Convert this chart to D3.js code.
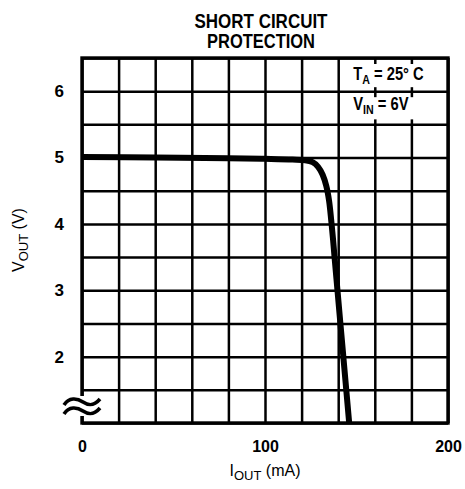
<!DOCTYPE html>
<html><head><meta charset="utf-8">
<script src="https://cdn.jsdelivr.net/npm/d3@7"></script>
<style>body{margin:0;background:#fff}svg{display:block}</style>
</head><body>
<script>
const iOut = [0, 40, 80, 100, 115, 122, 126, 129, 131.5, 133.5, 135, 136.2, 137.2, 138, 139.6, 141.2, 142.8, 144.4, 146];
const vOut = [5.01, 5.0, 4.99, 4.98, 4.97, 4.96, 4.93, 4.86, 4.74, 4.57, 4.35, 4.05, 3.76, 3.5, 3.0, 2.5, 2.0, 1.5, 1.0];
const xTicks = [0, 100, 200];
const yTicks = [2, 3, 4, 5, 6];
const xGrid = d3.range(0, 201, 20);
const yGrid = d3.range(1, 6.51, 0.5);
const titleLines = ["SHORT CIRCUIT", "PROTECTION"];

const W = 465, H = 489;
const L = 82, R = 448, T = 58, B = 423;
const svg = d3.select("body").append("svg").attr("width", W).attr("height", H);
const x = d3.scaleLinear().domain([0, 200]).range([L, R]);
const y = d3.scaleLinear().domain([1, 6.5]).range([B, T]);
const font = "'Liberation Sans', Arial, sans-serif";

// grid via axes
svg.append("g").attr("transform", `translate(0,${B})`)
  .call(d3.axisBottom(x).tickValues(xGrid).tickSize(-(B - T)).tickFormat(""))
  .call(g => g.select(".domain").remove())
  .selectAll("line").attr("stroke", "#000").attr("stroke-width", 2.5);
svg.append("g").attr("transform", `translate(${L},0)`)
  .call(d3.axisLeft(y).tickValues(yGrid).tickSize(-(R - L)).tickFormat(""))
  .call(g => g.select(".domain").remove())
  .selectAll("line").attr("stroke", "#000").attr("stroke-width", 2.5);

// inset text boxes (white background)
svg.append("rect").attr("x", x(140) + 3).attr("y", y(6.5) + 6).attr("width", R - x(140) - 5).attr("height", y(6) - y(6.5) - 10).attr("fill", "#fff");
svg.append("rect").attr("x", x(140) + 3).attr("y", y(6) + 6).attr("width", R - x(140) - 5).attr("height", y(5.5) - y(6) - 11).attr("fill", "#fff");

// border
svg.append("rect").attr("x", L).attr("y", T).attr("width", R - L).attr("height", B - T)
  .attr("fill", "none").attr("stroke", "#000").attr("stroke-width", 3.4);

// curve
svg.append("path").datum(iOut.map((d, i) => [d, vOut[i]]))
  .attr("d", d3.line().x(d => x(d[0])).y(d => y(d[1])).curve(d3.curveCatmullRom.alpha(0.5)))
  .attr("fill", "none").attr("stroke", "#000").attr("stroke-width", 6).attr("stroke-linecap", "butt");

// axis break symbol
svg.append("rect").attr("x", L - 4).attr("y", 396).attr("width", 8).attr("height", 20).attr("fill", "#fff");
const wave = (yy) => `M${L - 18},${yy + 3} C${L - 13},${yy - 5} ${L - 5},${yy - 4} ${L + 1},${yy} S${L + 12},${yy + 4} ${L + 18},${yy - 3}`;
svg.append("path").attr("d", wave(402)).attr("fill", "none").attr("stroke", "#000").attr("stroke-width", 3.6);
svg.append("path").attr("d", wave(411)).attr("fill", "none").attr("stroke", "#000").attr("stroke-width", 3.6);

// tick labels via axes
svg.append("g").attr("transform", `translate(0,${B})`)
  .call(d3.axisBottom(x).tickValues(xTicks).tickSize(0).tickPadding(18).tickFormat(d3.format("d")))
  .call(g => g.select(".domain").remove())
  .selectAll("text").attr("font-family", font).attr("font-size", 16).attr("font-weight", "bold").attr("fill", "#000");
svg.append("g").attr("transform", `translate(${L - 18},0)`)
  .call(d3.axisLeft(y).tickValues(yTicks).tickSize(0).tickPadding(0).tickFormat(d3.format("d")))
  .call(g => g.select(".domain").remove())
  .selectAll("text").attr("font-family", font).attr("font-size", 17).attr("font-weight", "bold").attr("fill", "#000");

// title
svg.append("g").selectAll("text").data(titleLines).join("text")
  .attr("x", 261).attr("y", (d, i) => 28 + i * 20).attr("text-anchor", "middle")
  .attr("font-family", font).attr("font-weight", "bold").attr("font-size", 20)
  .attr("textLength", (d, i) => i === 0 ? 133 : 108).attr("lengthAdjust", "spacingAndGlyphs")
  .text(d => d);

// axis titles
const xt = svg.append("text").attr("x", 265).attr("y", 476).attr("text-anchor", "middle")
  .attr("font-family", font).attr("font-size", 16);
xt.append("tspan").text("I");
xt.append("tspan").attr("dy", 4).attr("font-size", 13).text("OUT");
xt.append("tspan").attr("dy", -4).text(" (mA)");

const yt = svg.append("text").attr("transform", `translate(24,240) rotate(-90)`).attr("text-anchor", "middle")
  .attr("font-family", font).attr("font-size", 16);
yt.append("tspan").text("V");
yt.append("tspan").attr("dy", 4).attr("font-size", 13).text("OUT");
yt.append("tspan").attr("dy", -4).text(" (V)");

// inset annotations (condensed)
const g1 = svg.append("g").attr("transform", `translate(${x(140) + 15},80) scale(0.82,1)`);
const t1 = g1.append("text").attr("font-family", font).attr("font-size", 18).attr("font-weight", "bold");
t1.append("tspan").text("T");
t1.append("tspan").attr("dy", 4).attr("font-size", 13).text("A");
t1.append("tspan").attr("dy", -4).text(" = 25° C");
const g2 = svg.append("g").attr("transform", `translate(${x(140) + 15},110) scale(0.82,1)`);
const t2 = g2.append("text").attr("font-family", font).attr("font-size", 18).attr("font-weight", "bold");
t2.append("tspan").text("V");
t2.append("tspan").attr("dy", 4).attr("font-size", 13).text("IN");
t2.append("tspan").attr("dy", -4).text(" = 6V");
</script>
</body></html>
